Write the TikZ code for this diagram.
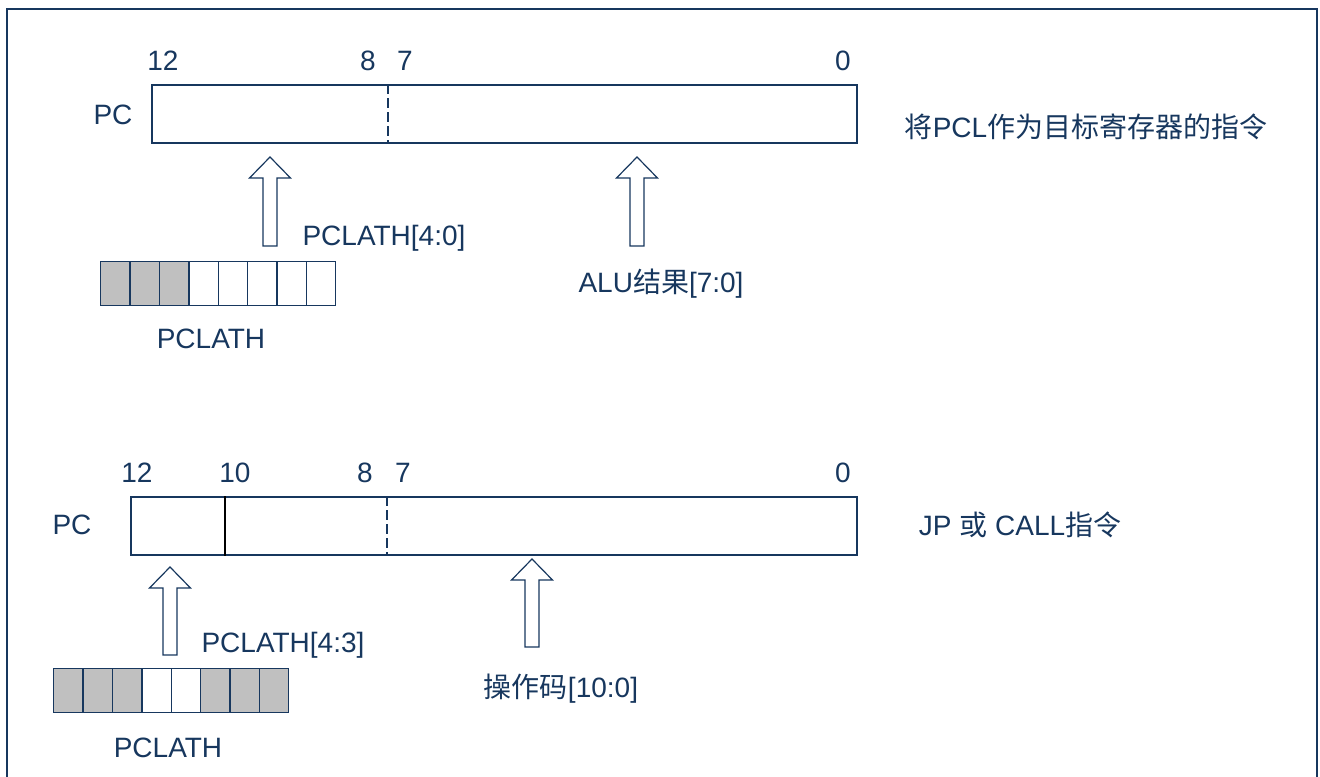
\documentclass[tikz,border=0pt]{standalone}
\usepackage{fontspec}
\setmainfont{Liberation Sans}
\newfontfamily\cjk{Noto Sans CJK SC}
\usetikzlibrary{positioning}
\definecolor{navy}{RGB}{23,55,94}
\definecolor{cellgray}{RGB}{192,192,192}

\begin{document}
\begin{tikzpicture}[
			x=0.75pt,y=-0.75pt,
			font=\fontsize{21}{25}\selectfont,
			line width=1.1pt,
			label/.style={text=navy,inner sep=0pt,text height=15pt,text depth=0pt},
			register/.style={
				rectangle,draw=navy,fill=white,
				minimum height=43.5pt,
				inner sep=0pt
			},
			cell/.style={
				rectangle,draw=navy,anchor=north west,
				minimum width=22.03pt,minimum height=33pt,
				inner sep=0pt
			},
			split/.style={navy,dash pattern=on 7pt off 3.5pt},
			bigarrow/.style={draw=navy,fill=white,line width=0.9pt,line join=miter}
			]
			
			\useasboundingbox (0,0) rectangle (1320,776);
			\draw[navy] (7,9) rectangle (1317,800);
			
			% PCL as destination
			\node[register,minimum width=528.75pt] (pcA) at (504.5,114) {};
			\draw[split] (388,0 |- pcA.north) -- (388,0 |- pcA.south);
			\node[label] (pcNameA) at (113,114) {PC};
			\node[label] (bitA12) at (163,60) {12};
			\node[label] (bitA8) at (368,60) {8};
			\node[label] (bitA7) at (405,60) {7};
			\node[label] (bitA0) at (843,60) {0};
			\node[label] (modeA) at (1086,127) {{\cjk 将}PCL{\cjk 作为目标寄存器的指令}};
			
			\foreach \f [count=\i from 0] in {cellgray,cellgray,cellgray,white,white,white,white,white}
			\node[cell,fill=\f] (latA\i) at (100+\i*29.375,261) {};
			\node[label] (latNameA) at (211,338) {PCLATH};
			\node[label] (srcA) at (384,235) {PCLATH[4:0]};
			\node[label] (aluA) at (661,282) {ALU{\cjk 结果}[7:0]};
			
			% JP or CALL
			\node[register,minimum width=544.5pt] (pcB) at (494,526) {};
			\draw[split] (387,0 |- pcB.north) -- (387,0 |- pcB.south);
			\draw (225,0 |- pcB.north) -- (225,0 |- pcB.south);
			\node[label] (pcNameB) at (72,524) {PC};
			\node[label] (bitB12) at (137,472) {12};
			\node[label] (bitB10) at (235,472) {10};
			\node[label] (bitB8) at (365,472) {8};
			\node[label] (bitB7) at (403,472) {7};
			\node[label] (bitB0) at (843,472) {0};
			\node[label] (modeB) at (1020,525) {JP {\cjk 或} CALL{\cjk 指令}};
			
			\foreach \f [count=\i from 0] in {cellgray,cellgray,cellgray,white,white,cellgray,cellgray,cellgray}
			\node[cell,fill=\f] (latB\i) at (53+\i*29.375,668) {};
			\node[label] (latNameB) at (168,747) {PCLATH};
			\node[label] (srcB) at (283,642) {PCLATH[4:3]};
			\node[label] (opB) at (561,687) {{\cjk 操作码}[10:0]};
			
			% hollow arrows
			\foreach \ax/\at/\ab in {270/157/246,637/157/246,170/567/655,532/559/647}
			\draw[bigarrow] (\ax,\at) -- (\ax+20.5,\at+21) -- (\ax+7,\at+21)
			-- (\ax+7,\ab) -- (\ax-7,\ab) -- (\ax-7,\at+21) -- (\ax-20.5,\at+21) -- cycle;
			
		\end{tikzpicture}
\end{document}
